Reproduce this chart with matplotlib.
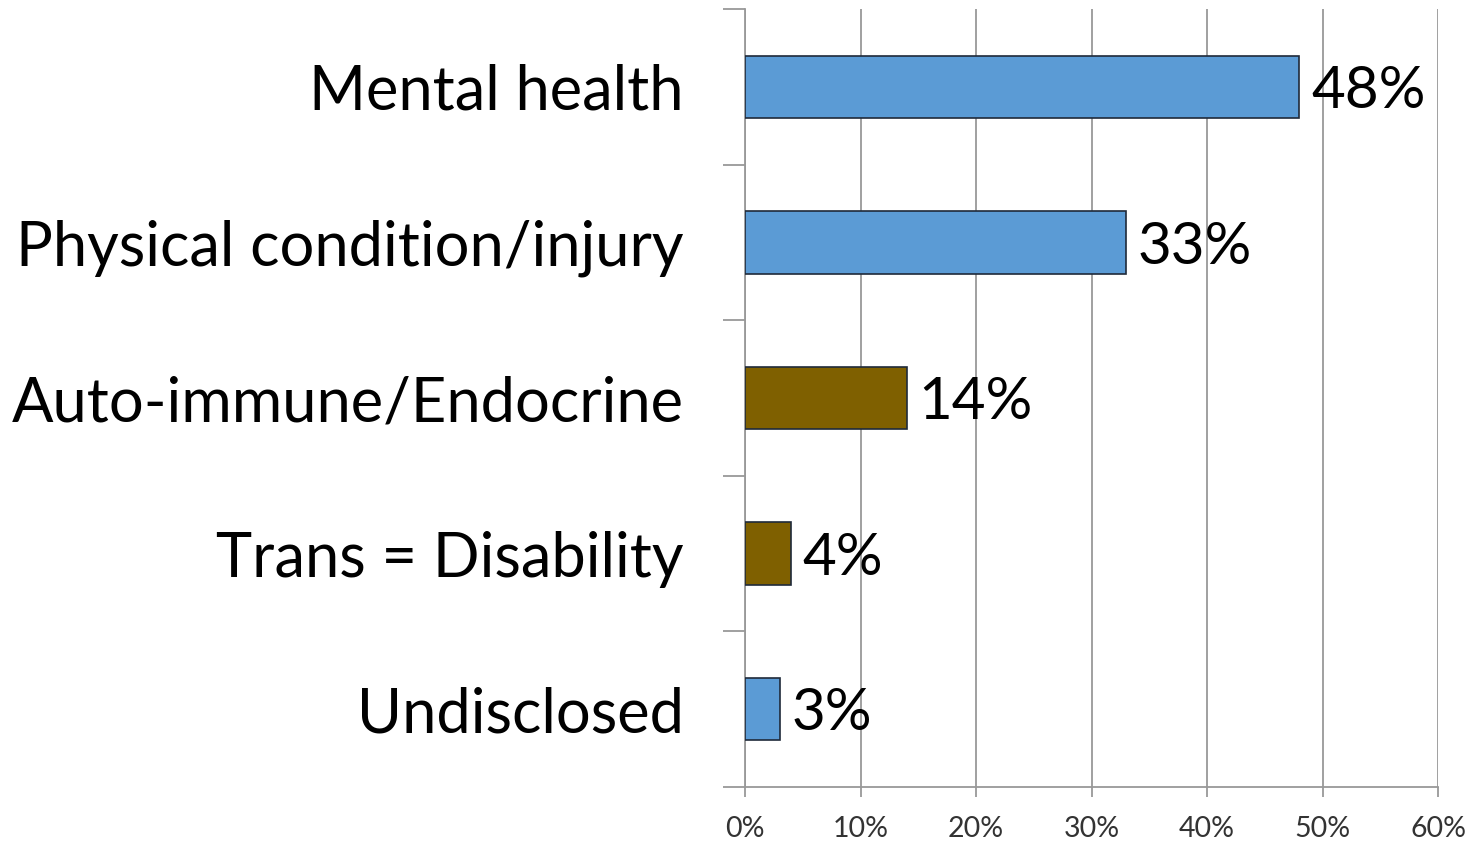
import matplotlib
matplotlib.use("Agg")
import matplotlib.pyplot as plt
from matplotlib.ticker import FixedLocator

categories = ["Mental health", "Physical condition/injury", "Auto-immune/Endocrine",
              "Trans = Disability", "Undisclosed"]
values = [48, 33, 14, 4, 3]
bar_colors = ["#5B9BD5", "#5B9BD5", "#7F6000", "#7F6000", "#5B9BD5"]
x_ticks = [0, 10, 20, 30, 40, 50, 60]

plt.rcParams['font.family'] = ['Lato', 'DejaVu Sans']

fig = plt.figure(figsize=(14.77, 8.42), dpi=100)
ax = fig.add_axes([745 / 1477, 1 - 787 / 842, (1438 - 745) / 1477, (787 - 9) / 842])

ypos = list(range(len(categories)))
ax.barh(ypos, values, height=0.4, color=bar_colors, edgecolor="#1f2a3a", linewidth=1.2, zorder=3)

for y, v in zip(ypos, values):
    ax.text(v + 1.0, y + 0.03, f"{v}%", va="center", ha="left", fontsize=42, color="black", zorder=4)

ax.set_xlim(0, 60)
ax.set_ylim(4.5, -0.5)

ax.set_xticks(x_ticks)
ax.set_xticklabels([f"{t}%" for t in x_ticks], fontsize=20.5, color="#333333")
ax.xaxis.grid(True, color="#999999", linewidth=1.3, zorder=0)
ax.tick_params(axis="x", length=7, width=1.3, color="#999999", pad=14)

ax.set_yticks(ypos)
ax.set_yticklabels(categories, fontsize=44.2)
ax.yaxis.set_minor_locator(FixedLocator([-0.5, 0.5, 1.5, 2.5, 3.5, 4.5]))
ax.tick_params(axis="y", which="major", length=0, pad=44)
ax.tick_params(axis="y", which="minor", length=16, width=1.3, color="#999999")

for s in ["top", "right"]:
    ax.spines[s].set_visible(False)
for s in ["left", "bottom"]:
    ax.spines[s].set_color("#999999")
    ax.spines[s].set_linewidth(1.3)

fig.savefig("out.png", dpi=100, facecolor="white")
